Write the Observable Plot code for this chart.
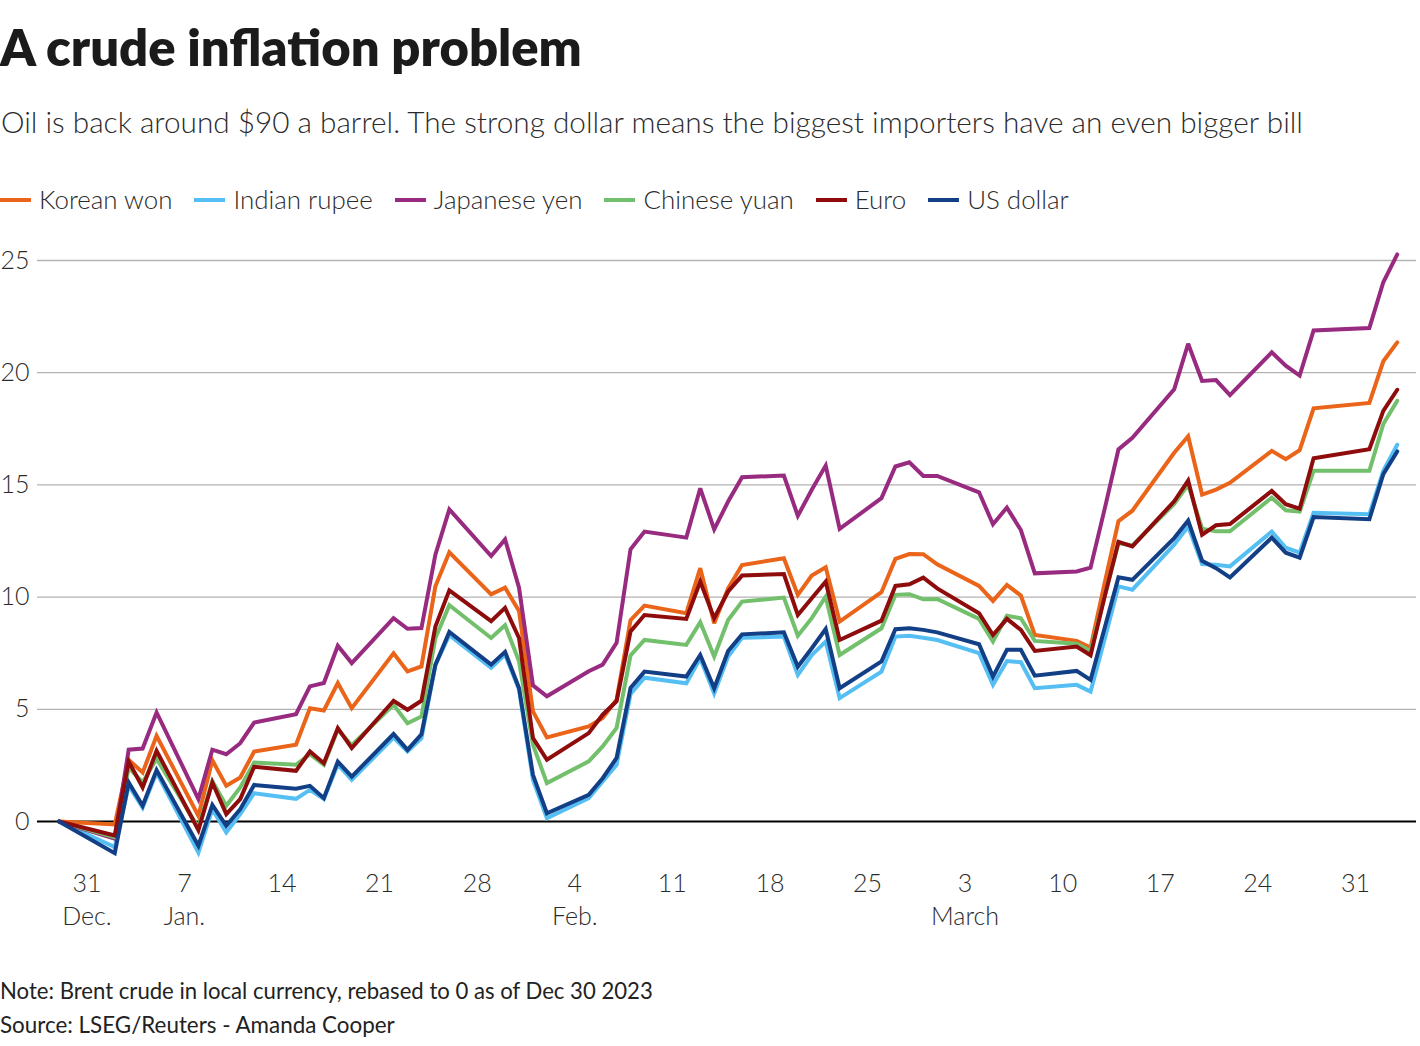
<!DOCTYPE html>
<html>
<head>
<meta charset="utf-8">
<script src="https://cdn.jsdelivr.net/npm/d3@7"></script>
<script src="https://cdn.jsdelivr.net/npm/@observablehq/plot@0.6"></script>
<style>
  html, body { margin: 0; padding: 0; background: #fff; }
  body { width: 1420px; height: 1046px; position: relative; overflow: hidden; font-family: Lato, "Noto Sans", sans-serif; }
  .abs { position: absolute; left: 0; white-space: nowrap; line-height: 1; }
  #title { font-weight: 800; color: #1b1b1b; font-size: 46px; }
  #subtitle { font-weight: 300; color: #2b2b2b; font-size: 29px; left: 1px; }
  #legend { display: flex; align-items: center; gap: 22px; font-weight: 300; color: #2b2b2b; font-size: 26px; }
  #legend .item { display: flex; align-items: center; }
  #legend .sw { display: inline-block; width: 31px; height: 4px; margin-right: 8px; }
  #note, #source { font-weight: 400; color: #222; font-size: 21px; }
  #chart { position: absolute; left: 0; top: 230px; }
</style>
</head>
<body>
<div id="title" class="abs">A crude inflation problem</div>
<div id="subtitle" class="abs">Oil is back around $90 a barrel. The strong dollar means the biggest importers have an even bigger bill</div>
<div id="legend" class="abs"></div>
<div id="chart"></div>
<div id="note" class="abs">Note: Brent crude in local currency, rebased to 0 as of Dec 30 2023</div>
<div id="source" class="abs">Source: LSEG/Reuters - Amanda Cooper</div>
<script>
// ---------- data ----------
const dates = [
  "2023-12-29","2024-01-02","2024-01-03","2024-01-04","2024-01-05",
  "2024-01-08","2024-01-09","2024-01-10","2024-01-11","2024-01-12",
  "2024-01-15","2024-01-16","2024-01-17","2024-01-18","2024-01-19",
  "2024-01-22","2024-01-23","2024-01-24","2024-01-25","2024-01-26",
  "2024-01-29","2024-01-30","2024-01-31","2024-02-01","2024-02-02",
  "2024-02-05","2024-02-06","2024-02-07","2024-02-08","2024-02-09",
  "2024-02-12","2024-02-13","2024-02-14","2024-02-15","2024-02-16",
  "2024-02-19","2024-02-20","2024-02-21","2024-02-22","2024-02-23",
  "2024-02-26","2024-02-27","2024-02-28","2024-02-29","2024-03-01",
  "2024-03-04","2024-03-05","2024-03-06","2024-03-07","2024-03-08",
  "2024-03-11","2024-03-12","2024-03-13","2024-03-14","2024-03-15",
  "2024-03-18","2024-03-19","2024-03-20","2024-03-21","2024-03-22",
  "2024-03-25","2024-03-26","2024-03-27","2024-03-28",
  "2024-04-01","2024-04-02","2024-04-03"
];
const koreanWon = [
  0, -0.13, 2.75, 2.18, 3.82,
  0.25, 2.73, 1.59, 1.96, 3.12,
  3.42, 5.05, 4.95, 6.17, 5.05,
  7.5, 6.69, 6.91, 10.48, 12.0,
  10.12, 10.42, 9.38, 4.91, 3.75,
  4.24, 4.61, 5.43, 8.97, 9.62,
  9.28, 11.29, 8.83, 10.39, 11.43,
  11.73, 10.1, 10.96, 11.33, 8.91,
  10.22, 11.7, 11.92, 11.91, 11.46,
  10.5, 9.83, 10.54, 10.07, 8.31,
  8.05, 7.75, 10.6, 13.38, 13.85,
  16.43, 17.17, 14.57, 14.79, 15.09,
  16.52, 16.15, 16.55, 18.41,
  18.65, 20.51, 21.35
];
const indianRupee = [
  0, -1.14, 1.6, 0.62, 2.18,
  -1.38, 0.55, -0.49, 0.33, 1.26,
  1.01, 1.41, 1.0, 2.55, 1.86,
  3.74, 3.12, 3.71, 6.98, 8.3,
  6.85, 7.44, 5.88, 1.86, 0.15,
  1.04, 1.79, 2.53, 5.68, 6.41,
  6.16, 7.27, 5.71, 7.35, 8.19,
  8.24, 6.53, 7.42, 8.02, 5.5,
  6.68, 8.24, 8.28, 8.19, 8.09,
  7.5, 6.09, 7.15, 7.1, 5.94,
  6.09, 5.79, 8.1, 10.48, 10.33,
  12.34, 13.15, 11.47, 11.44, 11.37,
  12.92, 12.2, 11.98, 13.76,
  13.69, 15.63, 16.79
];
const japaneseYen = [
  0, -0.76, 3.2, 3.25, 4.86,
  1.0, 3.2, 3.0, 3.49, 4.41,
  4.78, 6.02, 6.17, 7.83, 7.06,
  9.06, 8.59, 8.62, 11.89, 13.91,
  11.83, 12.57, 10.42, 6.07, 5.58,
  6.7, 6.99, 7.96, 12.13, 12.92,
  12.65, 14.85, 13.02, 14.26, 15.34,
  15.42, 13.62, 14.78, 15.86, 13.04,
  14.41, 15.82, 16.01, 15.4, 15.4,
  14.67, 13.25, 13.99, 12.99, 11.06,
  11.14, 11.31, 13.9, 16.58, 17.1,
  19.26, 21.29, 19.63, 19.67, 19.0,
  20.91, 20.31, 19.87, 21.88,
  21.99, 24.03, 25.27
];
const chineseYuan = [
  0, -0.7, 2.4, 1.74, 2.8,
  -0.27, 1.8, 0.7, 1.52, 2.63,
  2.53, 3.0, 2.53, 4.1, 3.4,
  5.2, 4.38, 4.68, 8.17, 9.64,
  8.18, 8.75, 7.14, 3.42, 1.71,
  2.68, 3.35, 4.17, 7.4, 8.09,
  7.87, 8.88, 7.35, 8.98, 9.8,
  9.98, 8.28, 9.06, 10.02, 7.42,
  8.61, 10.1, 10.13, 9.9, 9.92,
  9.03, 8.02, 9.17, 9.06, 8.05,
  7.92, 7.6, 10.0, 12.41, 12.3,
  14.15, 15.01, 13.05, 12.93, 12.93,
  14.43, 13.87, 13.81, 15.63,
  15.63, 17.71, 18.75
];
const euro = [
  0, -0.62, 2.67, 1.52, 3.15,
  -0.39, 1.74, 0.33, 1.0, 2.44,
  2.26, 3.12, 2.6, 4.16, 3.27,
  5.38, 4.98, 5.38, 8.69, 10.3,
  8.93, 9.52, 8.18, 3.72, 2.75,
  3.94, 4.76, 5.36, 8.47, 9.2,
  9.03, 10.69, 9.06, 10.25, 10.96,
  11.03, 9.2, 9.95, 10.69, 8.09,
  8.95, 10.5, 10.57, 10.87, 10.39,
  9.28, 8.31, 9.03, 8.54, 7.6,
  7.8, 7.41, 10.0, 12.46, 12.26,
  14.27, 15.19, 12.78, 13.2, 13.26,
  14.73, 14.14, 13.94, 16.19,
  16.59, 18.3, 19.24
];
const usDollar = [
  0, -1.41, 1.74, 0.7, 2.29,
  -1.08, 0.74, -0.19, 0.55, 1.63,
  1.46, 1.59, 1.04, 2.67, 2.0,
  3.9, 3.19, 3.89, 6.98, 8.45,
  6.99, 7.56, 5.95, 2.08, 0.37,
  1.19, 1.93, 2.83, 5.95, 6.68,
  6.46, 7.42, 5.94, 7.6, 8.34,
  8.43, 6.9, 7.72, 8.58, 5.94,
  7.13, 8.57, 8.61, 8.54, 8.43,
  7.9, 6.46, 7.65, 7.65, 6.5,
  6.71, 6.31, 8.6, 10.88, 10.77,
  12.63, 13.41, 11.62, 11.29, 10.88,
  12.65, 11.98, 11.76, 13.57,
  13.47, 15.48, 16.49
];
const seriesNames = ["Korean won", "Indian rupee", "Japanese yen", "Chinese yuan", "Euro", "US dollar"];
const seriesValues = [koreanWon, indianRupee, japaneseYen, chineseYuan, euro, usDollar];
const seriesColors = ["#ea6419", "#55bff3", "#982b80", "#72bf6c", "#8e0c0c", "#123f86"];
const yTicks = [0, 5, 10, 15, 20, 25];
const gridValues = [5, 10, 15, 20, 25];
const xTickDates = ["2023-12-31","2024-01-07","2024-01-14","2024-01-21","2024-01-28","2024-02-04","2024-02-11","2024-02-18","2024-02-25","2024-03-03","2024-03-10","2024-03-17","2024-03-24","2024-03-31"];
const xTickLabels = ["31\nDec.","7\nJan.","14","21","28","4\nFeb.","11","18","25","3\nMarch","10","17","24","31"];

// ---------- build ----------
const rows = seriesNames.flatMap((name, k) =>
  dates.map((d, i) => ({date: new Date(d), value: seriesValues[k][i], series: name})));
const ticks = xTickDates.map((d, i) => ({date: new Date(d), label: xTickLabels[i]}));

const DAY = 864e5;
const first = new Date(dates[0]).getTime();
const pxPerDay = 13.94;
const left = 37, right = 4, firstX = 58.5, W = 1420;
const xDomain = [new Date(first - (firstX - left) / pxPerDay * DAY),
                 new Date(first + (W - right - firstX) / pxPerDay * DAY)];

const chart = Plot.plot({
  width: W,
  height: 710,
  marginLeft: left,
  marginRight: right,
  marginTop: 30,
  marginBottom: 74.1,
  style: {fontFamily: "Lato, 'Noto Sans', sans-serif", fontWeight: 300, color: "#2b2b2b", background: "#fff", overflow: "visible"},
  x: {type: "utc", domain: xDomain, axis: null},
  y: {domain: [-2, 25]},
  color: {domain: seriesNames, range: seriesColors},
  marks: [
    Plot.ruleY(gridValues, {stroke: "#b3b3b3", strokeWidth: 1.3}),
    Plot.ruleY([0], {stroke: "#000", strokeWidth: 2}),
    Plot.axisY(yTicks, {tickSize: 0, tickPadding: 8, fontSize: 25, label: null, fill: "#2b2b2b"}),
    Plot.text(ticks, {x: "date", text: "label", frameAnchor: "bottom", dy: 2, lineAnchor: "top", lineHeight: 1.33, fontSize: 25, fill: "#2b2b2b"}),
    Plot.line(rows, {x: "date", y: "value", z: "series", stroke: "series", strokeWidth: 4, strokeLinejoin: "miter", strokeMiterlimit: 3})
  ]
});
document.getElementById("chart").appendChild(chart);

// legend
const legend = document.getElementById("legend");
seriesNames.forEach((name, k) => {
  const item = document.createElement("div");
  item.className = "item";
  const sw = document.createElement("span");
  sw.className = "sw";
  sw.style.background = seriesColors[k];
  const tx = document.createElement("span");
  tx.className = "lt";
  tx.textContent = name;
  item.appendChild(sw); item.appendChild(tx);
  legend.appendChild(item);
});

// ---------- fit text widths & baselines to the layout ----------
const ASC = 0.887; // Lato baseline offset inside a line-height:1 box
function fitWidth(el, target) {
  const fs = parseFloat(getComputedStyle(el).fontSize);
  const w = el.getBoundingClientRect().width;
  const nfs = fs * target / w;
  el.style.fontSize = nfs + "px";
  return nfs;
}
function place(el, fs, baseline) { el.style.top = (baseline - ASC * fs) + "px"; }

let fs;
fs = fitWidth(document.getElementById("title"), 582); place(document.getElementById("title"), fs, 67);
fs = fitWidth(document.getElementById("subtitle"), 1302); place(document.getElementById("subtitle"), fs, 133);
fs = fitWidth(document.getElementById("note"), 653); place(document.getElementById("note"), fs, 1000);
fs = fitWidth(document.getElementById("source"), 395); place(document.getElementById("source"), fs, 1034);

// legend: scale only its text part
{
  const fixed = seriesNames.length * 39 + (seriesNames.length - 1) * 22;
  const lfs = parseFloat(getComputedStyle(legend).fontSize);
  const w = legend.getBoundingClientRect().width;
  const nfs = lfs * (1069 - fixed) / (w - fixed);
  legend.style.fontSize = nfs + "px";
  legend.style.top = (210 - ASC * nfs) + "px";
}
</script>
</body>
</html>
